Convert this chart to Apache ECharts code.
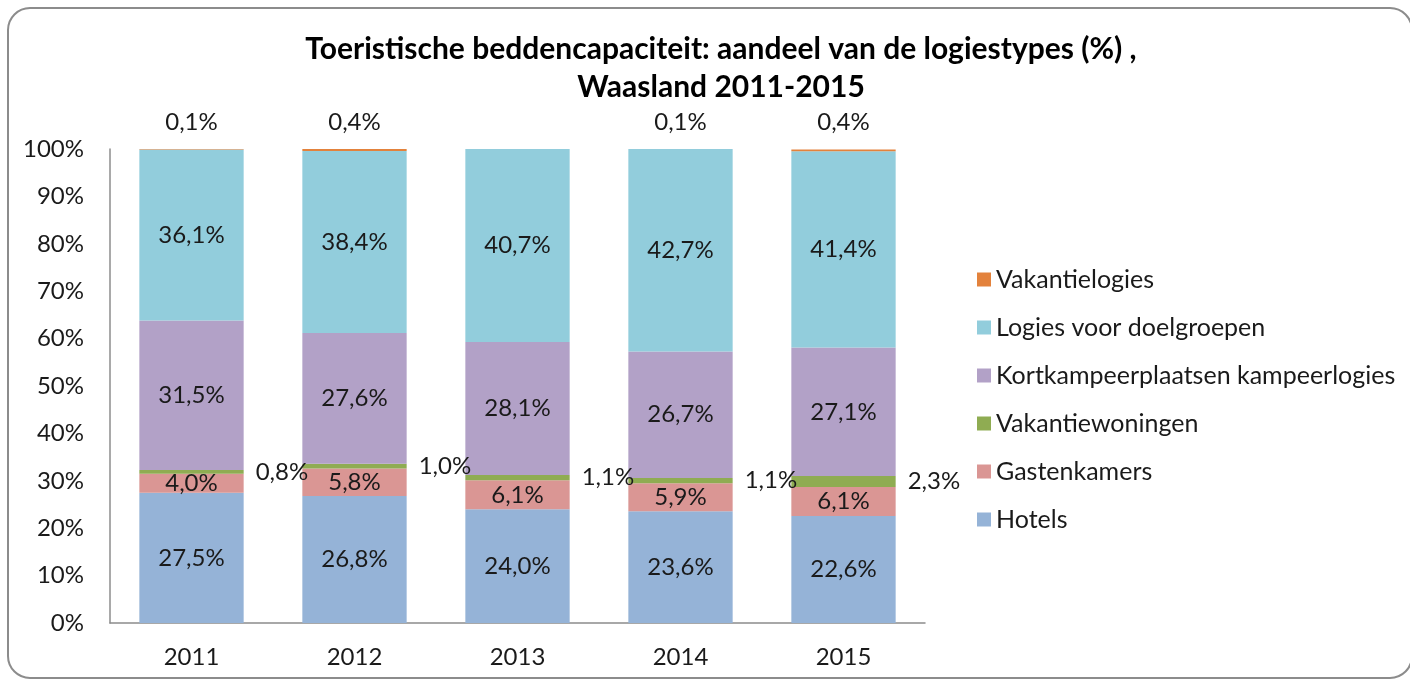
<!DOCTYPE html>
<html>
<head>
<meta charset="utf-8">
<script src="https://cdn.jsdelivr.net/npm/echarts@6/dist/echarts.min.js"></script>
<style>
  html, body { margin: 0; padding: 0; background: #fff; }
  #chart { width: 1410px; height: 684px; }
</style>
</head>
<body>
<div id="chart"></div>
<script>
// jaren en aandeel per logiestype (%)
const years = ['2011', '2012', '2013', '2014', '2015'];
const hotels = [27.5, 26.8, 24.0, 23.6, 22.6];
const gastenkamers = [4.0, 5.8, 6.1, 5.9, 6.1];
const vakantiewoningen = [0.8, 1.0, 1.1, 1.1, 2.3];
const kortkampeer = [31.5, 27.6, 28.1, 26.7, 27.1];
const doelgroepen = [36.1, 38.4, 40.7, 42.7, 41.4];
const vakantielogies = [0.1, 0.4, 0, 0.1, 0.4];

const FONT = 'Lato';
const SIZE = 24;
const pct = v => v ? v.toFixed(1).replace('.', ',') + '%' : '';

function serie(name, data, color, label) {
  return {
    name: name, type: 'bar', stack: 'totaal', data: data,
    barCategoryGap: '36%',
    itemStyle: { color: color },
    label: Object.assign({
      show: true, position: 'inside', color: '#1a1a1a',
      fontFamily: FONT, fontSize: SIZE,
      formatter: p => pct(p.value)
    }, label || {})
  };
}

const chart = echarts.init(document.getElementById('chart'));
chart.setOption({
  animation: false,
  graphic: [{
    type: 'rect', silent: true,
    shape: { x: 8, y: 8, width: 1404, height: 670, r: 22 },
    style: { fill: 'none', stroke: '#8c8c8c', lineWidth: 2 }
  }],
  title: {
    text: 'Toeristische beddencapaciteit: aandeel van de logiestypes (%) ,\nWaasland 2011-2015',
    left: 716, top: 25, textAlign: 'center',
    textStyle: { fontFamily: FONT, fontSize: 30, fontWeight: 'bold', color: '#000', lineHeight: 38 }
  },
  legend: {
    orient: 'vertical', left: 972, top: 262, itemGap: 23,
    itemWidth: 14, itemHeight: 14, icon: 'rect',
    textStyle: { fontFamily: FONT, fontSize: 25, color: '#1a1a1a', padding: [0, 0, 0, 0] },
    data: ['Vakantielogies', 'Logies voor doelgroepen', 'Kortkampeerplaatsen kampeerlogies',
      'Vakantiewoningen', 'Gastenkamers', 'Hotels']
  },
  grid: { left: 110, right: 1410 - 925, top: 149, bottom: 684 - 623 },
  xAxis: {
    type: 'category', data: years,
    axisLine: { lineStyle: { color: '#8c8c8c', width: 1.5 } },
    axisTick: { show: false },
    axisLabel: { fontFamily: FONT, fontSize: SIZE, color: '#1a1a1a', margin: 22 }
  },
  yAxis: {
    type: 'value', min: 0, max: 100, interval: 10,
    axisLine: { show: true, lineStyle: { color: '#8c8c8c', width: 1.5 } },
    axisTick: { show: false },
    splitLine: { show: false },
    axisLabel: { fontFamily: FONT, fontSize: SIZE, color: '#1a1a1a', margin: 26, formatter: '{value}%' }
  },
  series: [
    serie('Hotels', hotels, '#95b3d7'),
    serie('Gastenkamers', gastenkamers, '#da9694'),
    serie('Vakantiewoningen', vakantiewoningen, '#8fac52', { position: 'right', distance: 12 }),
    serie('Kortkampeerplaatsen kampeerlogies', kortkampeer, '#b2a1c7'),
    serie('Logies voor doelgroepen', doelgroepen, '#92cddc'),
    serie('Vakantielogies', vakantielogies, '#e3823c', { position: 'top', distance: 15 })
  ]
});
</script>
</body>
</html>
